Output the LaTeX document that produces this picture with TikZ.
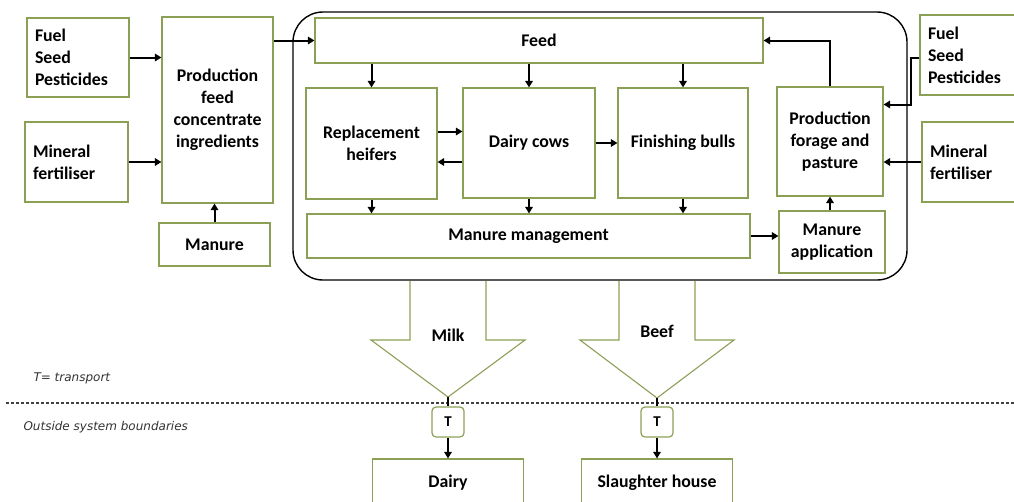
\documentclass[tikz,border=0pt]{standalone}
\usepackage{fontspec}
\setmainfont{Carlito}
\newfontfamily\notefont{DejaVu Sans}
\usetikzlibrary{arrows.meta}
\definecolor{boxgreen}{RGB}{140,160,85}

\begin{document}
\begin{tikzpicture}[x=1pt,y=-1pt,
      box/.style={draw=boxgreen, line width=1.2pt, fill=white, align=center,
        inner sep=0pt, font=\fontsize{17.8}{22}\selectfont\bfseries},
      lbox/.style={box, align=left},
      tbox/.style={box, rounded corners=4pt, minimum width=32pt, minimum height=30pt,
        font=\fontsize{15}{18}\selectfont\bfseries},
      arr/.style={-{Triangle[length=6.5pt,width=7.5pt]}, line width=2pt},
      bigarrow/.style={draw=boxgreen, line width=1.1pt, fill=white},
      note/.style={anchor=west, text=black!80,
        font=\notefont\fontsize{12}{14}\selectfont\itshape}]
    \useasboundingbox (0,0) rectangle (1014,501);
    \clip (0,0) rectangle (1014,501);

    % inputs on the left
    \node[lbox, text width=86pt, minimum width=102pt, minimum height=79pt] (fuelL) at (78,57.5) {Fuel\\Seed\\Pesticides};
    \node[lbox, text width=87pt, minimum width=103pt, minimum height=80pt] (minL) at (76.5,162) {Mineral\\fertiliser};
    \node[box, minimum width=111pt, minimum height=186pt] (conc) at (217.5,110) {Production\\feed\\concentrate\\ingredients};
    \node[box, minimum width=111pt, minimum height=43pt] (manureL) at (214.5,244.5) {Manure};

    % farm system
    \node[draw, line width=1.4pt, rounded corners=30pt, minimum width=614pt, minimum height=268pt] (farm) at (600,146) {};
    \node[box, minimum width=448pt, minimum height=45pt] (feed) at (539,40.5) {Feed};
    \node[box, minimum width=131pt, minimum height=111pt] (heifers) at (371.5,143.5) {Replacement\\heifers};
    \node[box, minimum width=132pt, minimum height=110pt] (cows) at (529,143) {Dairy cows};
    \node[box, minimum width=130pt, minimum height=110pt] (bulls) at (683,143) {Finishing bulls};
    \node[box, minimum width=443pt, minimum height=44pt] (manmgmt) at (528.5,236) {Manure management};
    \node[box, minimum width=106pt, minimum height=109pt] (forage) at (830,141.5) {Production\\forage and\\pasture};
    \node[box, minimum width=106pt, minimum height=62pt] (manapp) at (832,242) {Manure\\application};

    % inputs on the right
    \node[lbox, text width=82pt, minimum width=98pt, minimum height=80pt] (fuelR) at (969,55) {Fuel\\Seed\\Pesticides};
    \node[lbox, text width=80pt, minimum width=96pt, minimum height=80pt] (minR) at (970,162) {Mineral\\fertiliser};

    % flows
    \draw[arr] (fuelL.east) -- (fuelL.east -| conc.west);
    \draw[arr] (minL.east) -- (minL.east -| conc.west);
    \draw[arr] (manureL.north) -- (manureL.north |- conc.south);
    \draw[arr] (conc.north east |- feed.west) -- (feed.west);
    \foreach \a in {heifers,cows,bulls} {
      \draw[arr] (feed.south -| \a) -- (\a.north);
      \draw[arr] (\a.south) -- (\a.south |- manmgmt.north);
    }
    \draw[arr] ([yshift=12pt]heifers.east) -- ([yshift=12pt]heifers.east -| cows.west);
    \draw[arr] ([yshift=-19pt]cows.west) -- ([yshift=-19pt]cows.west -| heifers.east);
    \draw[arr] (cows) -- (bulls);
    \draw[arr] (manmgmt.east) -- (manmgmt.east -| manapp.west);
    \draw[arr] (forage.south |- manapp.north) -- (forage.south);
    \draw[arr] (forage.north) |- (feed.east);
    \draw[arr] ([yshift=-3pt]fuelR.west) -- ++(-8,0) |- ([yshift=37pt]forage.east);
    \draw[arr] (minR.west) -- (minR.west -| forage.east);

    % system boundary and notes
    \draw[black!75, line width=1.2pt, dash pattern=on 3pt off 2pt] (6,403) -- (1014,403);
    \node[note] (legend) at (30,378) {T= transport};
    \node[note] (outside) at (20,427) {Outside system boundaries};

    % products leaving the farm
    \foreach \x/\ty/\tip/\lab/\nm/\dest/\dlab in {448/335/397/Milk/milk/dairy/Dairy,
        657/331/398/Beef/beef/slaughter/Slaughter house} {
      \draw[bigarrow] (\x-38,281) -- (\x-38,340) -- (\x-77,340) -- (\x,\tip)
            -- (\x+77,340) -- (\x+38,340) -- (\x+38,281);
      \node[font=\fontsize{17.8}{22}\selectfont\bfseries] (\nm) at (\x,\ty) {\lab};
      \coordinate (\nm tip) at (\x,\tip);
      \node[tbox] (\nm T) at (\x,422) {T};
      \node[box, minimum width=151pt, minimum height=48pt] (\dest) at (\x,483) {\dlab};
      \draw[line width=2pt] (\nm tip) -- (\nm T);
      \draw[arr] (\nm T) -- (\dest);
    }
  \end{tikzpicture}
\end{document}
